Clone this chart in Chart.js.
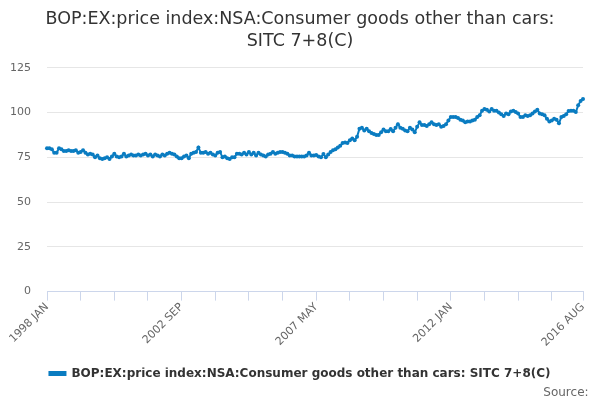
<!DOCTYPE html>
<html>
<head>
<meta charset="utf-8">
<script src="https://cdn.jsdelivr.net/npm/chart.js@4"></script>
<style>
  body { margin: 0; background: #fff; }
  #wrap { width: 600px; height: 400px; }
</style>
</head>
<body>
<div id="wrap"><canvas id="chart" width="600" height="400"></canvas></div>
<script>
// Monthly index, 1998 JAN .. 2016 AUG (224 months)
const years = [1998, 1999, 2000, 2001, 2002, 2003, 2004, 2005, 2006, 2007,
               2008, 2009, 2010, 2011, 2012, 2013, 2014, 2015, 2016];
const monthNames = ['JAN', 'FEB', 'MAR', 'APR', 'MAY', 'JUN',
                    'JUL', 'AUG', 'SEP', 'OCT', 'NOV', 'DEC'];
const lastMonthIndex = 7; // 2016 AUG

const priceIndex = [
  80, 80, 79.5, 77.5, 77.5, 80, 79.5, 78.5, 78.5, 79, 78.5, 78.5,
  79, 77.5, 78, 79, 77.5, 76.5, 77, 76.5, 75, 76, 74.5, 74,
  74.5, 75, 74, 75.5, 77, 75.5, 75, 75.5, 77, 75.5, 76, 76.5,
  76, 76, 76.5, 76, 76.5, 77, 76, 76.5, 75.5, 76.5, 76, 75.5,
  76.5, 76, 77, 77.5, 77, 76.5, 75.5, 74.5, 74.5, 75.5, 76, 74.5,
  77, 77.5, 78, 80.5, 77.5, 77.5, 78, 77, 77.5, 76.5, 76, 77.5,
  78, 75, 75.5, 74.5, 74, 75, 75, 77, 77, 76.5, 77.5, 76.5,
  78, 76.5, 77.5, 76, 77.5, 76.5, 76, 75.5, 76.5, 77, 78, 77,
  77.5, 78, 78, 77.5, 77, 76, 76, 75.5, 75.5, 75.5, 75.5, 75.5,
  76, 77.5, 76, 76, 76.3, 75.5, 75, 76.8, 75, 76.5, 78, 79,
  79.5, 80.5, 81.5, 83, 83.3, 83, 84.5, 85.5, 84.5, 86.5, 91, 91.5,
  90, 91, 89.5, 88.5, 88, 87.5, 87.5, 89, 90.5, 89.5, 89.5, 90.8,
  89.5, 91.5, 93.5, 91.5, 91, 90, 89.5, 91.5, 90.5, 89, 92, 94.5,
  93, 93, 92.5, 93.5, 94.5, 93.5, 93, 93.5, 92, 92.5, 93.5, 95.5,
  97.5, 97.5, 97.5, 97, 96, 95.5, 94.5, 95, 95, 95.5, 96, 97.5,
  98.5, 101, 102, 101.5, 100.5, 102, 101, 101, 100, 99, 98, 99.5,
  99, 100.5, 101, 100.3, 99.5, 97.5, 97.5, 98.5, 98, 98.5, 99.5, 100.5,
  101.5, 99.5, 99, 98.5, 96.5, 95, 95.5, 96.5, 96, 94, 97.5, 98,
  99, 100.8, 101, 101, 100.3, 104, 106.5, 107.5
];

const yTicks = [0, 25, 50, 75, 100, 125];
const labelEvery = 56; // a date label every 56 months
const tickEvery = 14;  // a tick mark every 14 months

const seriesName = 'BOP:EX:price index:NSA:Consumer goods other than cars: SITC 7+8(C)';
const titleLines = ['BOP:EX:price index:NSA:Consumer goods other than cars:', 'SITC 7+8(C)'];
const sourceText = 'Source:';

// build month labels from the year and month lists
const labels = [];
years.forEach((y, yi) => {
  monthNames.forEach((m, mi) => {
    if (yi === years.length - 1 && mi > lastMonthIndex) return;
    labels.push(y + ' ' + m);
  });
});

const lastIdx = labels.length - 1;
const lineColor = '#0a7cc1';
const font = 'DejaVu Sans';

new Chart(document.getElementById('chart').getContext('2d'), {
  type: 'line',
  data: {
    labels: labels,
    datasets: [{
      label: seriesName,
      data: priceIndex,
      borderColor: lineColor,
      backgroundColor: lineColor,
      borderWidth: 2,
      pointRadius: 2,
      pointBorderWidth: 0,
      pointBackgroundColor: lineColor,
      tension: 0,
      fill: false
    }]
  },
  options: {
    responsive: false,
    animation: false,
    maintainAspectRatio: false,
    layout: { padding: { left: 0, right: 0, top: 6, bottom: 0 } },
    plugins: {
      title: {
        display: true,
        text: titleLines,
        color: '#333333',
        font: { family: font, size: 17.5, weight: 'normal', lineHeight: 1.25 },
        padding: { top: 3, bottom: 15 }
      },
      subtitle: {
        display: true,
        position: 'bottom',
        align: 'end',
        text: sourceText + '\u00a0\u00a0\u00a0',
        color: '#666666',
        font: { family: font, size: 12 },
        // negative top padding lets the legend sit a little lower
        padding: { top: -4, bottom: 0 }
      },
      legend: {
        position: 'bottom',
        labels: {
          color: '#333333',
          font: { family: font, size: 12, weight: 'bold' },
          boxWidth: 16,
          boxHeight: 3,
          padding: 0
        }
      },
      tooltip: { enabled: false }
    },
    scales: {
      x: {
        type: 'category',
        offset: false,
        grid: {
          display: true,
          drawOnChartArea: false,
          drawTicks: true,
          tickLength: 9,
          color: ctx => (ctx.index % tickEvery === 0 || ctx.index === lastIdx) ? '#ccd6eb' : 'rgba(0,0,0,0)'
        },
        border: { display: true, color: '#ccd6eb' },
        ticks: {
          autoSkip: false,
          maxRotation: 45,
          minRotation: 45,
          padding: 0,
          color: '#666666',
          font: { family: font, size: 11 },
          callback: function (val, idx) {
            return (idx % labelEvery === 0 || idx === lastIdx) ? labels[idx] : '';
          }
        },
        afterFit: s => { s.height = 76; }
      },
      y: {
        min: 0,
        max: 125,
        afterBuildTicks: s => { s.ticks = yTicks.map(v => ({ value: v })); },
        grid: { color: '#e6e6e6', drawTicks: false },
        border: { display: false },
        ticks: {
          padding: 16,
          color: '#666666',
          font: { family: font, size: 11 }
        },
        afterFit: s => { s.width = 47; }
      },
      // empty right-hand axis, only keeps the plot clear of the right edge
      yRight: {
        position: 'right',
        min: 0,
        max: 125,
        grid: { display: false },
        border: { display: false },
        ticks: { display: false },
        afterFit: s => { s.width = 17; }
      }
    }
  }
});
</script>
</body>
</html>
